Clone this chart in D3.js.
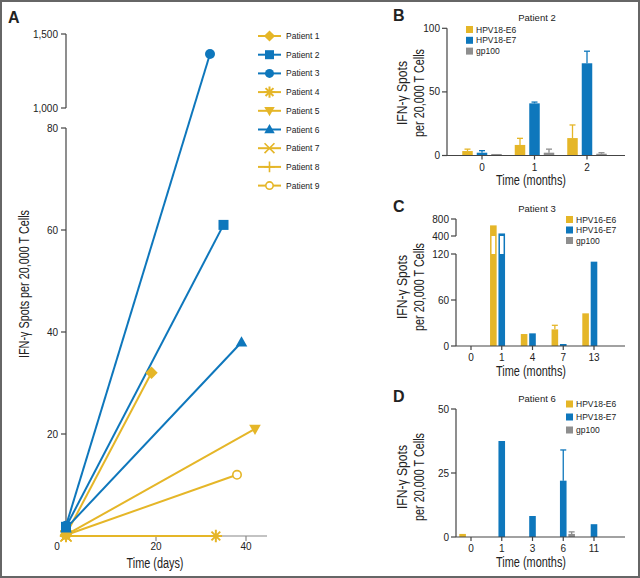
<!DOCTYPE html>
<html>
<head>
<meta charset="utf-8">
<script src="https://cdn.jsdelivr.net/npm/d3@7"></script>
<style>
  body { margin: 0; background: #fff; }
  text { font-family: "Liberation Sans", Arial, sans-serif; fill: #222; }
</style>
</head>
<body>
<svg id="chart" width="640" height="578"></svg>
<script>
// ---- panel A data ----
const patients = ["Patient 1", "Patient 2", "Patient 3", "Patient 4", "Patient 5",
  "Patient 6", "Patient 7", "Patient 8", "Patient 9"];
const patientColor = ["gold", "blue", "blue", "gold", "gold", "blue", "gold", "gold", "gold"];
const patientSymbol = ["diamond", "square", "circle", "asterisk", "triangleDown",
  "triangle", "times", "plus", "openCircle"];
const startDay = [0, 0, 0, 0, 0, 0, 0, 0, 0];
const startSpots = [0.3, 1.8, 2, 0, 0.2, 1.5, 0, 0, 0.2];
const endDay = [19, 35, 32, 33.3, 42, 39, 0, 0, 38];
const endSpots = [32, 61, 1365, 0, 21, 38, 0, 0, 12];
const yTicksA = [20, 40, 60, 80, 1000, 1500];
const xTicksA = [20, 40];

// ---- panels B, C, D data ----
const antigensB = ["HPV18-E6", "HPV18-E7", "gp100"];
const monthsB = ["0", "1", "2"];
const e6B = [3.5, 8.3, 13.7];
const e6ErrB = [5, 13.5, 24];
const e7B = [2.2, 41, 72.5];
const e7ErrB = [3.8, 42, 82];
const gpB = [1.2, 2.2, 1.4];
const gpErrB = [1.2, 5, 2.2];
const yTicksB = [0, 50, 100];

const antigensC = ["HPV16-E6", "HPV16-E7", "gp100"];
const monthsC = ["0", "1", "4", "7", "13"];
const e6C = [0, 650, 15.6, 21.7, 42.6];
const e6ErrC = [0, 650, 15.6, 27, 42.6];
const e7C = [0, 460, 16.5, 2.6, 110];
const e7ErrC = [0, 460, 16.5, 2.6, 110];
const gpC = [0, 0, 0, 0, 0];
const gpErrC = [0, 0, 0, 0, 0];
const yTicksC = [0, 60, 120, 400, 800];

const antigensD = ["HPV18-E6", "HPV18-E7", "gp100"];
const monthsD = ["0", "1", "3", "6", "11"];
const e6D = [1.2, 0, 0, 0, 0];
const e6ErrD = [1.2, 0, 0, 0, 0];
const e7D = [0, 37.5, 8.2, 22, 5];
const e7ErrD = [0, 37.5, 8.2, 34, 5];
const gpD = [0, 0, 0, 1.2, 0];
const gpErrD = [0, 0, 0, 2, 0];
const yTicksD = [0, 25, 50];

const GOLD = "#E5B628", BLUE = "#0E77BC", GRAY = "#8E8E8E", AXIS = "#444";
const colorOf = { gold: GOLD, blue: BLUE };

const svg = d3.select("#chart");

// condensed-looking text: squeeze to the measured width
const narrow = (sel, len) =>
  sel.attr("textLength", len).attr("lengthAdjust", "spacingAndGlyphs");

// outer frame
svg.append("rect").attr("x", 1).attr("y", 1).attr("width", 638).attr("height", 576)
  .attr("fill", "none").attr("stroke", "#666").attr("stroke-width", 2);

// ---------------- Panel A ----------------
const xA = d3.scaleLinear().domain([0, 40]).range([66, 246]);
const yA = d3.scaleLinear().domain([0, 80, 1000, 1500]).range([536, 128, 108, 34]);

svg.append("text").attr("x", 8).attr("y", 23).style("font-size", "16px")
  .style("font-weight", "bold").text("A");

// y axis (broken)
const axA = svg.append("g").attr("stroke", AXIS).attr("stroke-width", 1.2);
axA.append("line").attr("x1", xA(0)).attr("x2", xA(0)).attr("y1", yA(0)).attr("y2", yA(80));
axA.append("line").attr("x1", xA(0)).attr("x2", xA(0)).attr("y1", yA(1000)).attr("y2", yA(1500));
axA.append("line").attr("x1", xA(0)).attr("x2", 267).attr("y1", yA(0)).attr("y2", yA(0))
  .attr("stroke", "#888");
axA.selectAll(".yt").data(yTicksA).join("line")
  .attr("x1", xA(0) - 5).attr("x2", xA(0)).attr("y1", (d) => yA(d)).attr("y2", (d) => yA(d));
axA.selectAll(".xt").data(xTicksA).join("line")
  .attr("x1", (d) => xA(d)).attr("x2", (d) => xA(d)).attr("y1", yA(0)).attr("y2", yA(0) + 5)
  .attr("stroke", "#888");

svg.selectAll(".ytlA").data(yTicksA).join("text")
  .attr("x", xA(0) - 8).attr("y", (d) => yA(d) + 3.5).attr("text-anchor", "end")
  .style("font-size", "10px").text((d) => d3.format(",")(d));
svg.selectAll(".xtlA").data(xTicksA).join("text")
  .attr("x", (d) => xA(d)).attr("y", 550).attr("text-anchor", "middle")
  .style("font-size", "10px").text((d) => d);
svg.append("text").attr("x", 57).attr("y", 550).attr("text-anchor", "middle")
  .style("font-size", "10px").text("0");

narrow(svg.append("text").attr("x", 155).attr("y", 568)
  .attr("text-anchor", "middle").style("font-size", "14px").text("Time (days)"), 57);
narrow(svg.append("text")
  .attr("transform", "translate(29,284) rotate(-90)")
  .attr("text-anchor", "middle").style("font-size", "14px")
  .text("IFN-γ Spots per 20,000 T Cells"), 148);

// marker drawing helper
function marker(g, type, color, size) {
  const s = size;
  if (type === "diamond") {
    g.append("path").attr("d", `M0,${-s * 0.62}L${s * 0.62},0L0,${s * 0.62}L${-s * 0.62},0Z`).attr("fill", color);
  } else if (type === "square") {
    g.append("rect").attr("x", -s / 2).attr("y", -s / 2).attr("width", s).attr("height", s).attr("fill", color);
  } else if (type === "circle") {
    g.append("circle").attr("r", s / 2).attr("fill", color);
  } else if (type === "openCircle") {
    g.append("circle").attr("r", s / 2 - 0.8).attr("fill", "#fff").attr("stroke", color).attr("stroke-width", 1.6);
  } else if (type === "triangle") {
    g.append("path").attr("d", `M0,${-s * 0.6}L${s * 0.58},${s * 0.42}L${-s * 0.58},${s * 0.42}Z`).attr("fill", color);
  } else if (type === "triangleDown") {
    g.append("path").attr("d", `M0,${s * 0.6}L${s * 0.58},${-s * 0.42}L${-s * 0.58},${-s * 0.42}Z`).attr("fill", color);
  } else if (type === "asterisk") {
    const r = s * 0.62;
    const p = d3.range(4).map((i) => {
      const a = (i * Math.PI) / 4;
      return `M${-r * Math.cos(a)},${-r * Math.sin(a)}L${r * Math.cos(a)},${r * Math.sin(a)}`;
    }).join("");
    g.append("path").attr("d", p).attr("stroke", color).attr("stroke-width", 2);
  } else if (type === "times") {
    const r = s * 0.55;
    g.append("path").attr("d", `M${-r},${-r}L${r},${r}M${-r},${r}L${r},${-r}`)
      .attr("stroke", color).attr("stroke-width", 1.6);
  } else if (type === "plus") {
    const r = s * 0.6;
    g.append("path").attr("d", `M0,${-r}L0,${r}M${-r},0L${r},0`)
      .attr("stroke", color).attr("stroke-width", 1.6);
  }
}

// lines + markers
const lineData = patients.map((p, i) => ({
  name: p, color: colorOf[patientColor[i]], sym: patientSymbol[i],
  pts: [[startDay[i], startSpots[i]], [endDay[i], endSpots[i]]]
}));
const drawOrder = [3, 6, 7, 8, 4, 0, 5, 1, 2];
drawOrder.forEach((i) => {
  const d = lineData[i];
  svg.append("path")
    .attr("d", d3.line().x((p) => xA(p[0])).y((p) => yA(p[1]))(d.pts))
    .attr("fill", "none").attr("stroke", d.color).attr("stroke-width", 2);
});
drawOrder.forEach((i) => {
  const d = lineData[i];
  d.pts.forEach((p) => {
    const g = svg.append("g").attr("transform", `translate(${xA(p[0])},${yA(p[1])})`);
    marker(g, d.sym, d.color, 10);
  });
});

// legend A
const legA = svg.append("g");
patients.forEach((p, i) => {
  const y = 36 + i * 18.7;
  const c = colorOf[patientColor[i]];
  legA.append("line").attr("x1", 258).attr("x2", 281).attr("y1", y).attr("y2", y)
    .attr("stroke", c).attr("stroke-width", 2);
  const g = legA.append("g").attr("transform", `translate(269.5,${y})`);
  marker(g, patientSymbol[i], c, 9);
  legA.append("text").attr("x", 286).attr("y", y + 3).style("font-size", "8.5px").text(p);
});

// ---------------- Bar panels ----------------
function barPanel(opt) {
  const g = svg.append("g");
  const x = d3.scalePoint().domain(opt.months).range(opt.xr);
  const y = d3.scaleLinear().domain(opt.yDomain).range(opt.yRange);
  const series = [
    { name: opt.antigens[0], vals: opt.e6, errs: opt.e6Err, color: GOLD },
    { name: opt.antigens[1], vals: opt.e7, errs: opt.e7Err, color: BLUE },
    { name: opt.antigens[2], vals: opt.gp, errs: opt.gpErr, color: GRAY }
  ];

  g.append("text").attr("x", 393).attr("y", opt.top + 21).style("font-size", "16px")
    .style("font-weight", "bold").text(opt.letter);
  g.append("text").attr("x", 537).attr("y", opt.top + 21).attr("text-anchor", "middle")
    .style("font-size", "9.5px").text(opt.title);

  // bars
  series.forEach((s, si) => {
    const off = (si - 1) * opt.step;
    s.vals.forEach((v, i) => {
      if (v <= 0) return;
      const cx = x(opt.months[i]) + off;
      // error bar (upper only)
      if (s.errs[i] > v) {
        g.append("line").attr("x1", cx).attr("x2", cx).attr("y1", y(v)).attr("y2", y(s.errs[i]))
          .attr("stroke", s.color).attr("stroke-width", 1.3);
        g.append("line").attr("x1", cx - 3).attr("x2", cx + 3)
          .attr("y1", y(s.errs[i])).attr("y2", y(s.errs[i]))
          .attr("stroke", s.color).attr("stroke-width", 1.3);
      }
      g.append("rect").attr("x", cx - opt.bw / 2).attr("width", opt.bw)
        .attr("y", y(v)).attr("height", y(0) - y(v)).attr("fill", s.color);
      if (opt.brk && v > opt.brk[1]) {
        g.append("rect").attr("x", cx - opt.bw / 2 + 1.5).attr("width", opt.bw - 3)
          .attr("y", y(opt.brk[1])).attr("height", y(opt.brk[0]) - y(opt.brk[1]))
          .attr("fill", "#fff");
      }
    });
  });

  // axes
  const ax = g.append("g").attr("stroke", AXIS).attr("stroke-width", 1.2);
  if (opt.brk) {
    ax.append("line").attr("x1", opt.x0).attr("x2", opt.x0).attr("y1", y(0)).attr("y2", y(opt.brk[0]));
    ax.append("line").attr("x1", opt.x0).attr("x2", opt.x0).attr("y1", y(opt.brk[1])).attr("y2", y(opt.yDomain[opt.yDomain.length - 1]));
  } else {
    ax.append("line").attr("x1", opt.x0).attr("x2", opt.x0).attr("y1", y(0)).attr("y2", y(opt.yTicks[opt.yTicks.length - 1]));
  }
  ax.append("line").attr("x1", opt.x0).attr("x2", 625).attr("y1", y(0)).attr("y2", y(0));
  ax.selectAll(".yt").data(opt.yTicks).join("line")
    .attr("x1", opt.x0 - 5).attr("x2", opt.x0).attr("y1", (d) => y(d)).attr("y2", (d) => y(d));
  ax.selectAll(".xt").data(opt.months).join("line")
    .attr("x1", (d) => x(d)).attr("x2", (d) => x(d)).attr("y1", y(0)).attr("y2", y(0) + 4);

  g.selectAll(".ytl").data(opt.yTicks).join("text")
    .attr("x", opt.x0 - 7).attr("y", (d) => y(d) + 3.5).attr("text-anchor", "end")
    .style("font-size", "10px").text((d) => d);
  g.selectAll(".xtl").data(opt.months).join("text")
    .attr("x", (d) => x(d)).attr("y", y(0) + 15).attr("text-anchor", "middle")
    .style("font-size", "10px").text((d) => d);

  narrow(g.append("text").attr("x", 531).attr("y", opt.top + opt.xLabelY)
    .attr("text-anchor", "middle").style("font-size", "14px").text("Time (months)"), 70);
  const yl = g.append("g")
    .attr("transform", `translate(407,${opt.top + opt.yLabelMid}) rotate(-90)`);
  narrow(yl.append("text").attr("x", 0).attr("y", 0).attr("text-anchor", "middle")
    .style("font-size", "14px").text("IFN-γ Spots"), 64);
  narrow(yl.append("text").attr("x", 0).attr("y", 17).attr("text-anchor", "middle")
    .style("font-size", "14px").text("per 20,000 T Cells"), 88);

  // legend
  series.forEach((s, i) => {
    const ly = opt.legY + i * opt.legStep;
    g.append("rect").attr("x", opt.legX).attr("y", ly - 3.5).attr("width", 7).attr("height", 7)
      .attr("fill", s.color);
    g.append("text").attr("x", opt.legX + 10).attr("y", ly + 3).style("font-size", "8.5px").text(s.name);
  });
}

barPanel({
  letter: "B", title: "Patient 2", top: 0, months: monthsB, antigens: antigensB,
  e6: e6B, e6Err: e6ErrB, e7: e7B, e7Err: e7ErrB, gp: gpB, gpErr: gpErrB,
  xr: [482, 587], x0: 447, yDomain: [0, 100], yRange: [155.5, 28.3], yTicks: yTicksB,
  step: 14.5, bw: 10.5, xLabelY: 185, yLabelMid: 93, legX: 466, legY: 29.5, legStep: 10.8
});
barPanel({
  letter: "C", title: "Patient 3", top: 191, months: monthsC, antigens: antigensC,
  e6: e6C, e6Err: e6ErrC, e7: e7C, e7Err: e7ErrC, gp: gpC, gpErr: gpErrC,
  xr: [471, 594], x0: 456, yDomain: [0, 120, 400, 800], yRange: [346, 254, 236, 219],
  yTicks: yTicksC, brk: [120, 400],
  step: 8.4, bw: 6.6, xLabelY: 185, yLabelMid: 96, legX: 566, legY: 219.5, legStep: 10.5
});
barPanel({
  letter: "D", title: "Patient 6", top: 381, months: monthsD, antigens: antigensD,
  e6: e6D, e6Err: e6ErrD, e7: e7D, e7Err: e7ErrD, gp: gpD, gpErr: gpErrD,
  xr: [471, 594], x0: 456, yDomain: [0, 50], yRange: [537, 409], yTicks: yTicksD,
  step: 8.4, bw: 6.6, xLabelY: 186, yLabelMid: 96, legX: 566, legY: 404, legStep: 13
});
</script>
</body>
</html>
